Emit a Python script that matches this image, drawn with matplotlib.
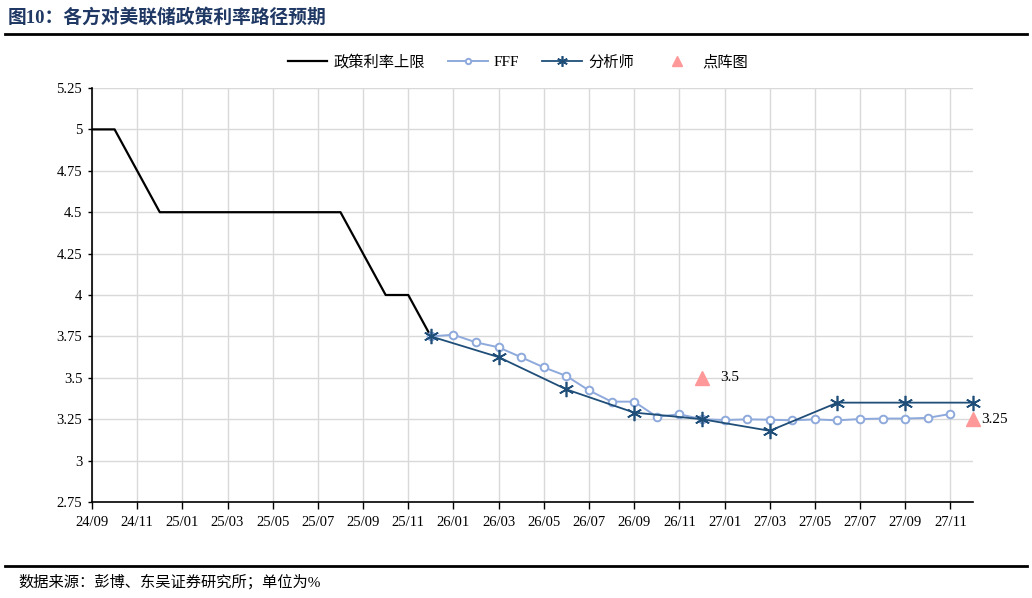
import matplotlib
matplotlib.use("Agg")
import matplotlib.pyplot as plt
import numpy as np

plt.rcParams['font.family'] = ['Liberation Serif', 'Noto Sans CJK SC']

# month labels 24/09 .. 27/12
months = []
y, m = 24, 9
for _ in range(40):
    months.append(f"{y:02d}/{m:02d}")
    m += 1
    if m > 12:
        m = 1
        y += 1

policy_months = months[0:16]
policy_vals = [5.0, 5.0, 4.75, 4.5, 4.5, 4.5, 4.5, 4.5, 4.5, 4.5, 4.5, 4.5, 4.25, 4.0, 4.0, 3.75]

fff_months = months[15:39]
fff_vals = [3.75, 3.76, 3.714, 3.684, 3.624, 3.563, 3.511, 3.424, 3.356, 3.356, 3.265, 3.28,
            3.25, 3.245, 3.249, 3.247, 3.243, 3.249, 3.243, 3.251, 3.254, 3.254, 3.258, 3.282]

analyst_months = ["25/12", "26/03", "26/06", "26/09", "26/12", "27/03", "27/06", "27/09", "27/12"]
analyst_vals = [3.75, 3.625, 3.43, 3.29, 3.25, 3.18, 3.35, 3.35, 3.35]

dot_months = ["26/12", "27/12"]
dot_vals = [3.5, 3.25]
dot_labels = ["3.5", "3.25"]
dot_label_offsets = [13, 6]

yticks = [2.75, 3, 3.25, 3.5, 3.75, 4, 4.25, 4.5, 4.75, 5, 5.25]
ytick_labels = ["2.75", "3", "3.25", "3.5", "3.75", "4", "4.25", "4.5", "4.75", "5", "5.25"]

idx = {mm: i for i, mm in enumerate(months)}
def xs(lst):
    return [idx[v] for v in lst]

fig = plt.figure(figsize=(10.32, 5.98), dpi=100)
ax = fig.add_axes([92/1032, 1-502/598, (973-92)/1032, (502-88)/598])

ax.plot(xs(policy_months), policy_vals, color='black', lw=1.6, label='政策利率上限', zorder=3)
ax.plot(xs(fff_months), fff_vals, color='#8EA9DB', lw=1.4, marker='o', ms=5.5,
        mfc='white', mec='#8EA9DB', mew=1.4, label='FFF', zorder=4)
ax.plot(xs(analyst_months), analyst_vals, color='#1F4E79', lw=1.3, marker=(6, 2, 0), ms=11,
        mew=1.2, label='分析师', zorder=5, clip_on=False)
ax.plot(xs(dot_months), dot_vals, ls='none', marker='^', ms=10, color='#FF9999',
        label='点阵图', zorder=6, clip_on=False)
for xv, yv, t, off in zip(xs(dot_months), dot_vals, dot_labels, dot_label_offsets):
    ax.annotate(t, (xv, yv), xytext=(off, 0), textcoords='offset points',
                va='center', ha='left', fontsize=11)

ax.set_xlim(0, 39)
ax.set_ylim(2.75, 5.25)
tick_pos = list(range(0, 40, 2))
ax.set_xticks(tick_pos)
ax.set_xticklabels([months[i] for i in tick_pos], fontsize=10.5)
ax.set_yticks(yticks)
ax.set_yticklabels(ytick_labels, fontsize=10.5)
ax.tick_params(axis='x', direction='out', length=5, width=1, pad=5)
ax.tick_params(axis='y', direction='out', length=3, width=1, pad=4)
ax.grid(True, color='#D9D9D9', lw=1)
ax.set_axisbelow(True)
for s in ['top', 'right']:
    ax.spines[s].set_visible(False)
for s in ['left', 'bottom']:
    ax.spines[s].set_color('black')
    ax.spines[s].set_linewidth(1.2)

handles, labels = ax.get_legend_handles_labels()
leg = fig.legend(handles, labels, loc='center', bbox_to_anchor=(518/1032, 1-62/598), ncol=4,
                 frameon=False, fontsize=11, handlelength=2.6, columnspacing=1.5,
                 handletextpad=0.4, markerscale=0.7)

fig.text(8/1032, 1-17/598, '图10：各方对美联储政策利率路径预期', fontsize=13.5, fontweight='bold',
         color='#1F3864', va='center', ha='left')
fig.add_artist(plt.Line2D([5/1032, 1027/1032], [1-34/598, 1-34/598], color='black', lw=2))
fig.add_artist(plt.Line2D([5/1032, 1027/1032], [1-566/598, 1-566/598], color='black', lw=2))
fig.text(18/1032, 1-582/598, '数据来源：彭博、东吴证券研究所；单位为%', fontsize=11,
         va='center', ha='left')

fig.savefig('out.png', dpi=100)
